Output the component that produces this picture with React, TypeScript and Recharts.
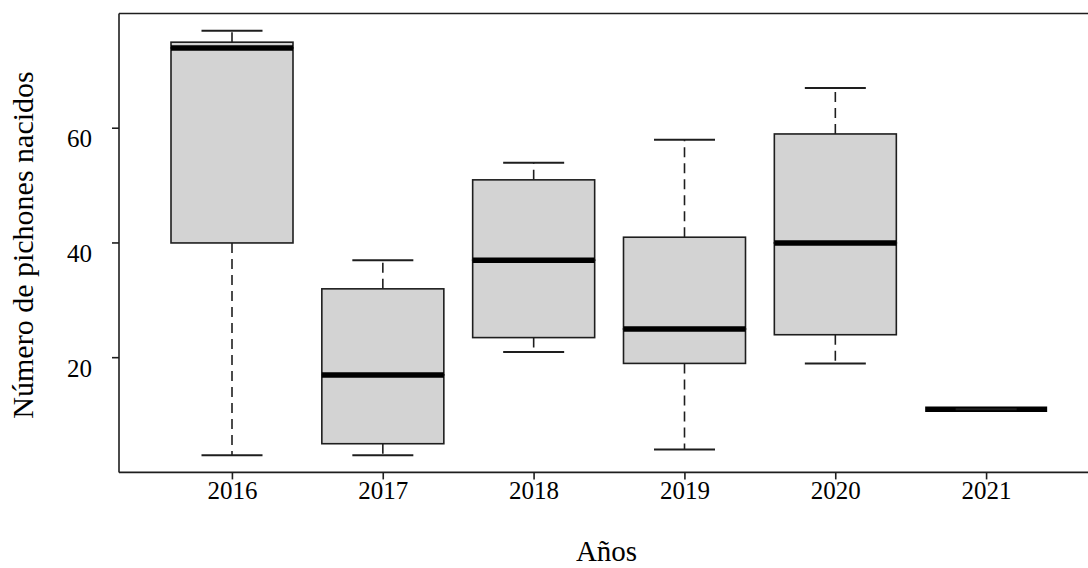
import React from 'react';
import { ComposedChart, Bar, XAxis, YAxis, ReferenceLine } from 'recharts';

const years = ['2016', '2017', '2018', '2019', '2020', '2021'];
const mins = [3, 3, 21, 4, 19, 11];
const q1s = [40, 5, 23.5, 19, 24, 11];
const medians = [74, 17, 37, 25, 40, 11];
const q3s = [75, 32, 51, 41, 59, 11];
const maxs = [77, 37, 54, 58, 67, 11];
const yTicks = [20, 40, 60];
const yDomain = [0, 80];

const data = years.map((year, i) => ({
  year,
  base: mins[i],
  lowWhisker: q1s[i] - mins[i],
  lowBox: medians[i] - q1s[i],
  highBox: q3s[i] - medians[i],
  highWhisker: maxs[i] - q3s[i],
}));

const FONT = "'Liberation Serif', 'DejaVu Serif', serif";
const STROKE = '#1e1e1e';
const FILL = '#d3d3d3';
const LW = 1.6;

const Empty = () => <g />;

const LowWhiskerShape = (p: any) => {
  const { x, y, width, height } = p;
  const cx = x + width / 2;
  const bottom = y + height;
  return (
    <g>
      <line x1={cx} x2={cx} y1={y} y2={bottom} stroke={STROKE} strokeWidth={LW} strokeDasharray="10 6" />
      <line x1={x + width / 4} x2={x + (3 * width) / 4} y1={bottom} y2={bottom} stroke={STROKE} strokeWidth={LW + 0.4} />
    </g>
  );
};

const HighWhiskerShape = (p: any) => {
  const { x, y, width, height } = p;
  const cx = x + width / 2;
  const bottom = y + height;
  return (
    <g>
      <line x1={cx} x2={cx} y1={bottom} y2={y} stroke={STROKE} strokeWidth={LW} strokeDasharray="10 6" />
      <line x1={x + width / 4} x2={x + (3 * width) / 4} y1={y} y2={y} stroke={STROKE} strokeWidth={LW + 0.4} />
    </g>
  );
};

const LowBoxShape = (p: any) => {
  const { x, y, width, height } = p;
  return <rect x={x} y={y} width={width} height={Math.max(height, 0)} fill={FILL} stroke={STROKE} strokeWidth={LW} />;
};

const HighBoxShape = (p: any) => {
  const { x, y, width, height } = p;
  const bottom = y + height;
  return (
    <g>
      <rect x={x} y={y} width={width} height={Math.max(height, 0)} fill={FILL} stroke={STROKE} strokeWidth={LW} />
      <line x1={x} x2={x + width} y1={bottom} y2={bottom} stroke="#000" strokeWidth={5.5} strokeLinecap="butt" />
    </g>
  );
};

const YTick = (p: any) => {
  const { x, y, payload } = p;
  return (
    <text x={x} y={y} dy={19} textAnchor="end" fontSize={25} fontFamily={FONT} fill="#000">
      {payload.value}
    </text>
  );
};

const XTick = (p: any) => {
  const { x, y, payload } = p;
  return (
    <text x={x} y={y} dy={18} textAnchor="middle" fontSize={25} fontFamily={FONT} fill="#000">
      {payload.value}
    </text>
  );
};

const YTitle = (p: any) => {
  const vb = p.viewBox || {};
  const x = (vb.x || 0) + 33;
  const y = (vb.y || 0) + (vb.height || 0) / 2 + 2;
  return (
    <text x={x} y={y} transform={`rotate(-90 ${x} ${y})`} textAnchor="middle" fontSize={30} fontFamily={FONT} fill="#000">
      Número de pichones nacidos
    </text>
  );
};

const XTitle = (p: any) => {
  const vb = p.viewBox || {};
  const x = (vb.x || 0) + (vb.width || 0) / 2 - 2;
  const y = (vb.y || 0) + 88.5;
  return (
    <text x={x} y={y} textAnchor="middle" fontSize={29} fontFamily={FONT} fill="#000">
      Años
    </text>
  );
};

export default function App() {
  return (
    <div style={{ position: 'absolute', left: 0, top: 0, width: 1088, height: 568, overflow: 'hidden', background: '#fff' }}>
      <ComposedChart width={1110} height={568} data={data} margin={{ top: 13.5, right: 12, bottom: 35.6, left: 0 }}>
        <XAxis
          dataKey="year"
          type="category"
          padding={{ left: 38, right: 36 }}
          height={60}
          tickSize={7}
          tickMargin={2}
          tick={<XTick />}
          axisLine={{ stroke: STROKE, strokeWidth: LW }}
          tickLine={{ stroke: STROKE, strokeWidth: LW }}
          label={{ content: <XTitle /> }}
        />
        <YAxis
          type="number"
          domain={yDomain}
          ticks={yTicks}
          width={119}
          tickSize={7}
          tickMargin={20}
          tick={<YTick />}
          axisLine={{ stroke: STROKE, strokeWidth: LW }}
          tickLine={{ stroke: STROKE, strokeWidth: LW }}
          allowDataOverflow
          label={{ content: <YTitle /> }}
        />
        <ReferenceLine y={yDomain[1]} stroke={STROKE} strokeWidth={LW} />
        <Bar dataKey="base" stackId="b" barSize={122} shape={<Empty />} isAnimationActive={false} />
        <Bar dataKey="lowWhisker" stackId="b" barSize={122} shape={<LowWhiskerShape />} isAnimationActive={false} />
        <Bar dataKey="lowBox" stackId="b" barSize={122} shape={<LowBoxShape />} isAnimationActive={false} />
        <Bar dataKey="highBox" stackId="b" barSize={122} shape={<HighBoxShape />} isAnimationActive={false} />
        <Bar dataKey="highWhisker" stackId="b" barSize={122} shape={<HighWhiskerShape />} isAnimationActive={false} />
      </ComposedChart>
    </div>
  );
}
